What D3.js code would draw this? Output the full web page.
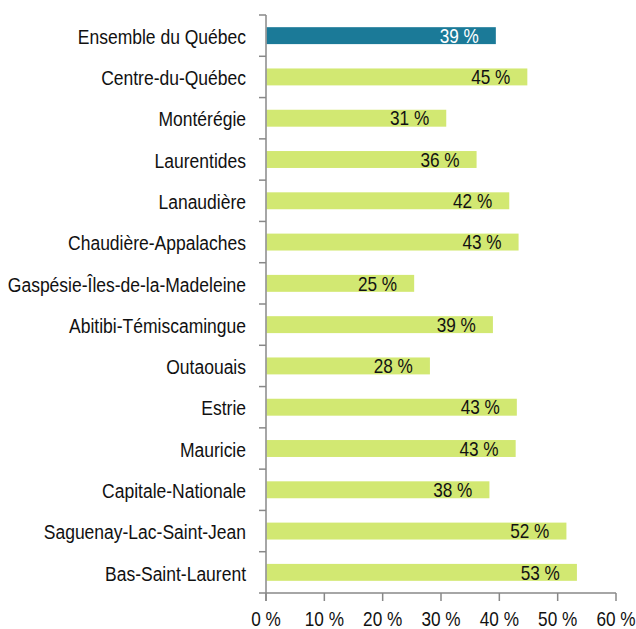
<!DOCTYPE html>
<html><head><meta charset="utf-8">
<script src="https://cdn.jsdelivr.net/npm/d3@7"></script>
<style>
html,body{margin:0;padding:0;background:#fff;}
svg{display:block;}
text{font-family:"Liberation Sans",Arial,sans-serif;}
</style></head>
<body>
<script>
const categories = ["Ensemble du Québec","Centre-du-Québec","Montérégie","Laurentides","Lanaudière","Chaudière-Appalaches","Gaspésie-Îles-de-la-Madeleine","Abitibi-Témiscamingue","Outaouais","Estrie","Mauricie","Capitale-Nationale","Saguenay-Lac-Saint-Jean","Bas-Saint-Laurent"];
const values = [39.4,44.8,30.9,36.1,41.7,43.3,25.4,38.9,28.1,43.0,42.8,38.3,51.5,53.3];
const valueLabels = ["39 %","45 %","31 %","36 %","42 %","43 %","25 %","39 %","28 %","43 %","43 %","38 %","52 %","53 %"];
const xTicks = [0,10,20,30,40,50,60];
const xTickLabels = ["0 %","10 %","20 %","30 %","40 %","50 %","60 %"];

const W = 636, H = 629;
const mLeft = 266, mRight = 616, mTop = 15, mBottom = 593;
const SX = 0.86, SXC = 0.875;

const svg = d3.select("body").append("svg").attr("width", W).attr("height", H);
const x = d3.scaleLinear().domain([0,60]).range([mLeft,mRight]);
const y = d3.scaleBand().domain(categories).range([mTop,mBottom]).paddingInner(0.59).paddingOuter(0.295);
const yb = d3.scaleBand().domain(categories).range([mTop,mBottom]);

// bars
svg.append("g").selectAll("rect").data(categories).join("rect")
  .attr("x", x(0)+0.5)
  .attr("y", d => y(d))
  .attr("width", (d,i) => x(values[i]) - x(0) - 0.5)
  .attr("height", y.bandwidth())
  .attr("fill", (d,i) => i===0 ? "#1b7a98" : "#d2e872");

// value labels
svg.append("g").selectAll("text").data(categories).join("text")
  .attr("transform", (d,i) => `translate(${x(values[i]) - 17},${y(d)+y.bandwidth()/2}) scale(${SX},1)`)
  .attr("text-anchor","end")
  .attr("dy","0.36em")
  .attr("font-size","20px")
  .attr("fill", (d,i) => i===0 ? "#ffffff" : "#111111")
  .text((d,i) => valueLabels[i]);

// y axis
const gy = svg.append("g");
gy.append("line").attr("x1",mLeft).attr("x2",mLeft).attr("y1",mTop).attr("y2",mBottom+8)
  .attr("stroke","#888").attr("stroke-width",1.5);
const yTickPos = categories.map(c => yb(c)).concat([mBottom]);
gy.selectAll("line.t").data(yTickPos).join("line").attr("class","t")
  .attr("x1",mLeft-7).attr("x2",mLeft).attr("y1",d=>d).attr("y2",d=>d)
  .attr("stroke","#888").attr("stroke-width",1.5);
gy.selectAll("text").data(categories).join("text")
  .attr("transform", d => `translate(246,${yb(d)+yb.bandwidth()/2+1}) scale(${SXC},1)`)
  .attr("text-anchor","end")
  .attr("dy","0.36em")
  .attr("font-size","20px")
  .attr("fill","#111111")
  .text(d => d);

// x axis
const gx = svg.append("g");
gx.append("line").attr("x1",mLeft).attr("x2",mRight).attr("y1",mBottom).attr("y2",mBottom)
  .attr("stroke","#888").attr("stroke-width",1.5);
gx.selectAll("line.t").data(xTicks).join("line").attr("class","t")
  .attr("x1",d=>x(d)).attr("x2",d=>x(d)).attr("y1",mBottom).attr("y2",mBottom+8)
  .attr("stroke","#888").attr("stroke-width",1.5);
gx.selectAll("text").data(xTicks).join("text")
  .attr("transform", d => `translate(${x(d)},${mBottom+33}) scale(${SX},1)`)
  .attr("text-anchor","middle")
  .attr("font-size","20px")
  .attr("fill","#111111")
  .text((d,i) => xTickLabels[i]);
</script>
</body></html>
